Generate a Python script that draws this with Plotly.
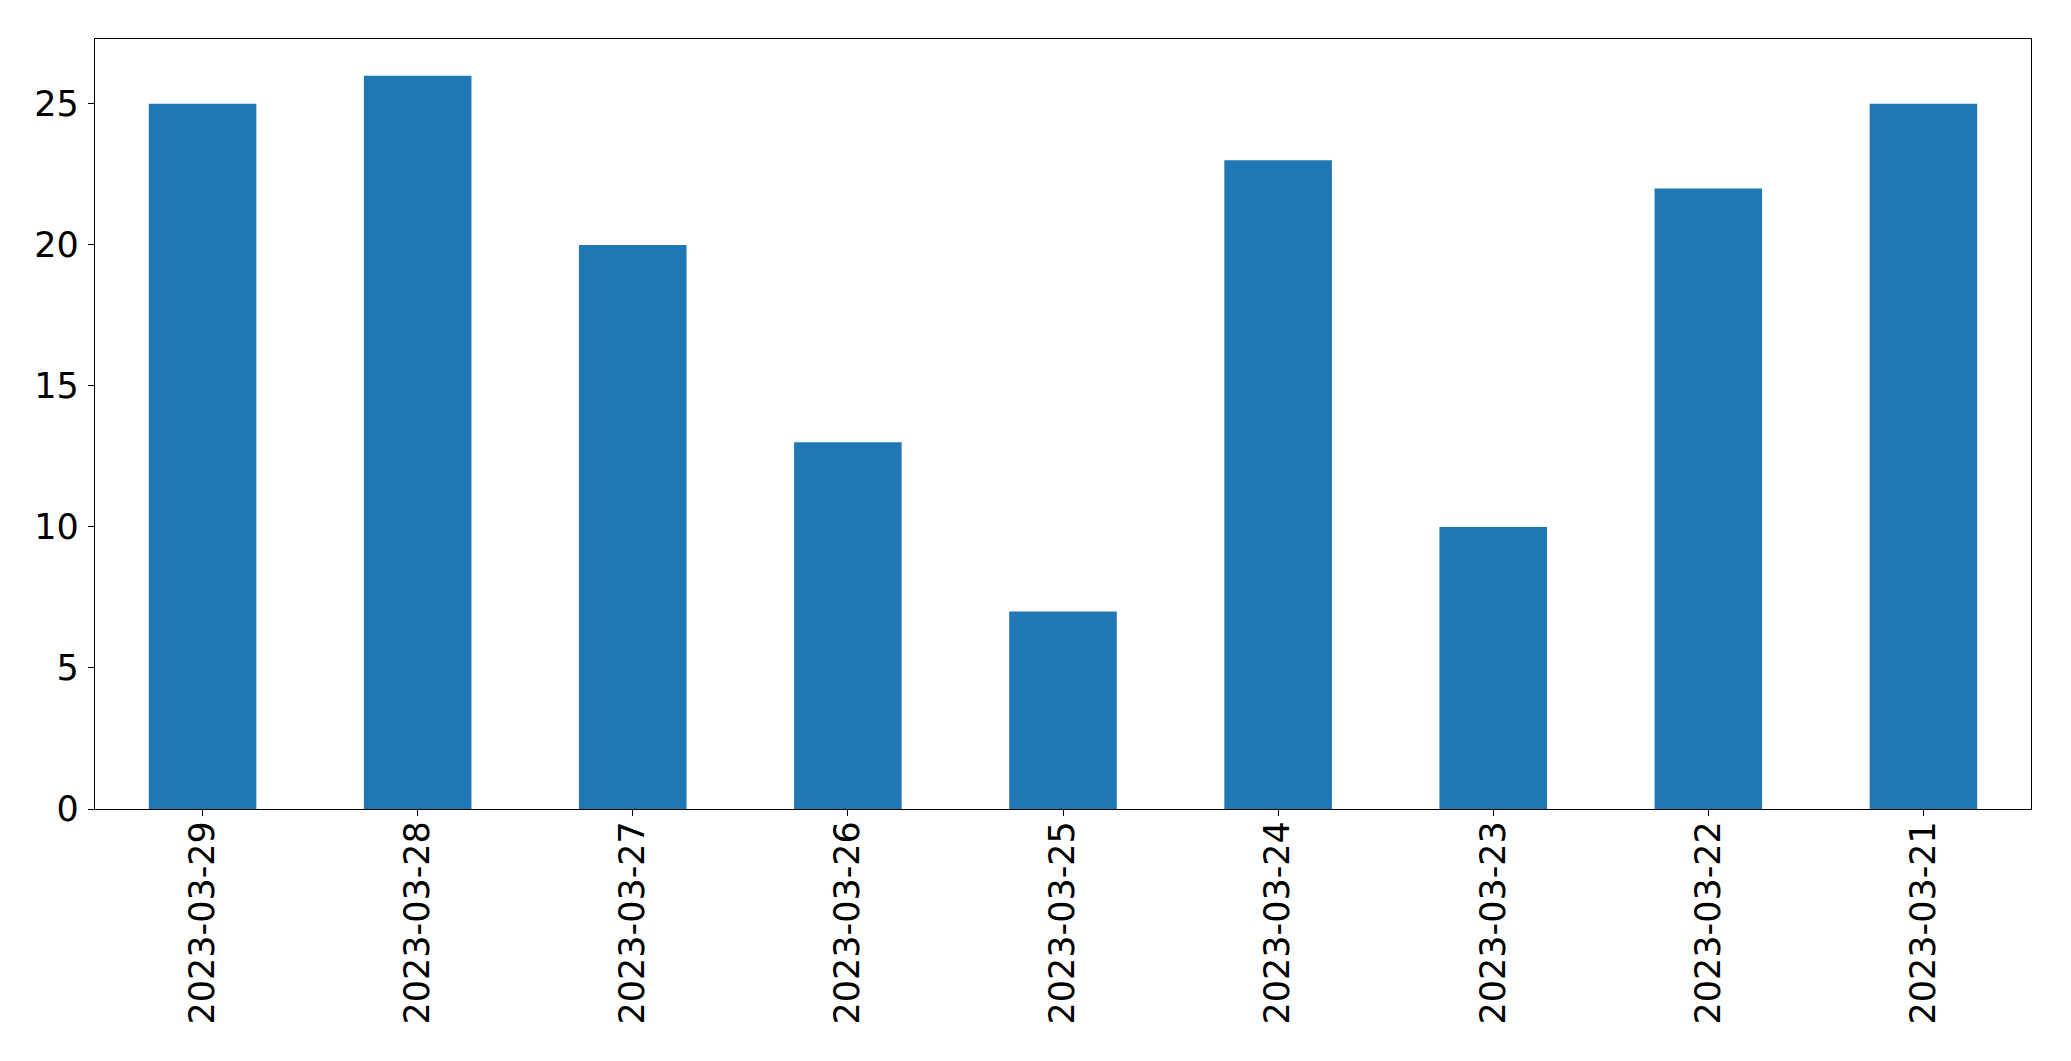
import plotly.graph_objects as go

dates = ["2023-03-29", "2023-03-28", "2023-03-27", "2023-03-26", "2023-03-25",
         "2023-03-24", "2023-03-23", "2023-03-22", "2023-03-21"]
counts = [25, 26, 20, 13, 7, 23, 10, 22, 25]

fig = go.Figure(go.Bar(x=dates, y=counts, width=0.5, marker_color="#1f77b4",
                       marker_line_width=0))

fig.update_layout(
    width=2063, height=1053,
    margin=dict(l=87, r=40, t=31, b=252, autoexpand=False),
    paper_bgcolor="white", plot_bgcolor="white",
    font=dict(family="DejaVu Sans", size=35, color="black"),
    showlegend=False,
)
fig.update_xaxes(type="category", range=[-0.5, 8.5], tickangle=-90,
                 showline=True, linecolor="black", linewidth=1.3, mirror=True,
                 ticks="outside", ticklen=6, tickcolor="black", tickwidth=1.3,
                 showgrid=False, zeroline=False, ticklabelstandoff=-9)
fig.update_yaxes(range=[0, 27.3], tickvals=[0, 5, 10, 15, 20, 25],
                 showline=True, linecolor="black", linewidth=1.3, mirror=True,
                 ticks="outside", ticklen=6, tickcolor="black", tickwidth=1.3,
                 showgrid=False, zeroline=False, ticklabelstandoff=2)

fig.write_html("out.html")
